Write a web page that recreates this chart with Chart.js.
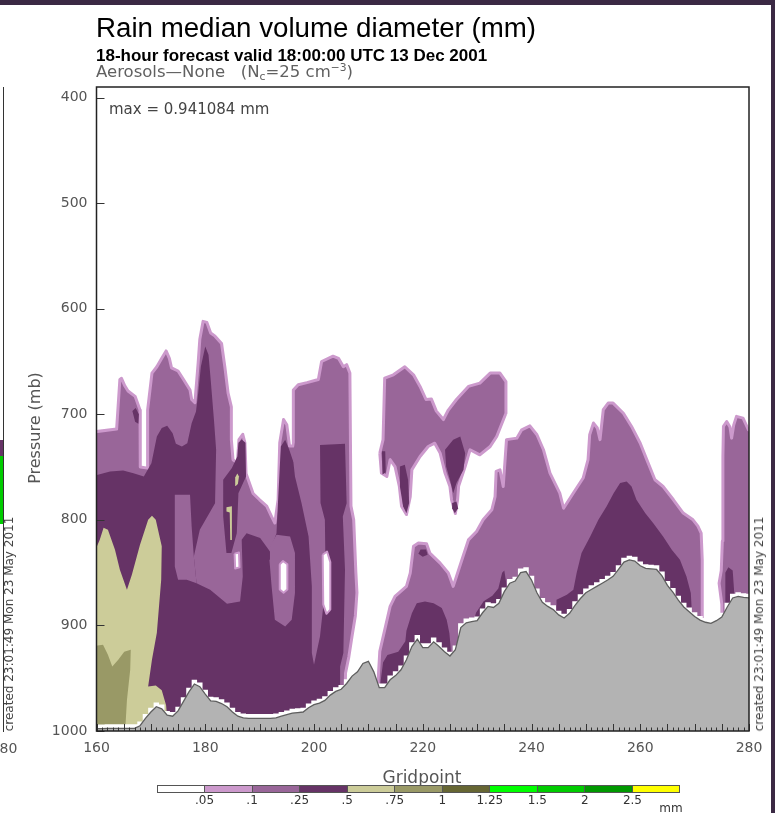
<!DOCTYPE html>
<html>
<head>
<meta charset="utf-8">
<script src="https://cdn.jsdelivr.net/npm/chart.js"></script>
<style>
  html, body { margin: 0; padding: 0; background: #fff; }
  body { width: 775px; height: 813px; position: relative; overflow: hidden; font-family: 'DejaVu Sans', sans-serif; }
  #chart { position: absolute; left: 0; top: 0; }
  .t { position: absolute; white-space: nowrap; }
  .rot { transform: translate(-50%, -50%) rotate(-90deg); }
  .mid { transform: translate(-50%, -50%); }
  .sub { font-size: 65%; position: relative; top: 0.3em; }
  .sup { font-size: 65%; position: relative; top: -0.55em; }
  #bar { position: absolute; left: 157px; top: 785px; width: 523px; height: 8px; border: 1px solid #555; box-sizing: border-box; display: flex; }
  #bar div { flex: 1; border-left: 1px solid #555; }
  #bar div:first-child { border-left: none; }
</style>
</head>
<body>
<canvas id="chart" width="775" height="813"></canvas>

<div class="t" style="left:0;top:0;width:775px;height:5px;background:#3b2944"></div>
<div class="t" style="left:771px;top:0;width:4px;height:813px;background:#3b2944"></div>
<div class="t" style="left:0;top:87px;width:3px;height:645px;border-right:1.5px solid #333"></div>
<div class="t" style="left:0;top:440px;width:3px;height:16px;background:#663366"></div>
<div class="t" style="left:0;top:456px;width:3px;height:68px;background:#00cc00"></div>

<div class="t" style="left:96px;top:14px;font:27.7px/27.7px 'Liberation Sans',sans-serif;color:#000">Rain median volume diameter (mm)</div>
<div class="t" style="left:96px;top:47px;font:bold 17px/17px 'Liberation Sans',sans-serif;color:#000">18-hour forecast valid 18:00:00 UTC 13 Dec 2001</div>
<div class="t" style="left:96px;top:64px;font:16.5px/16.5px 'DejaVu Sans',sans-serif;color:#606060">Aerosols—None&nbsp;&nbsp;&nbsp;(N<span class="sub">c</span>=25 cm<span class="sup">−3</span>)</div>
<div class="t" style="left:109px;top:102px;font:15px/15px 'DejaVu Sans',sans-serif;color:#444">max = 0.941084 mm</div>
<div class="t rot" style="left:35px;top:428px;font:16px/16px 'DejaVu Sans',sans-serif;color:#555">Pressure (mb)</div>
<div class="t mid" style="left:422px;top:777px;font:17px/17px 'DejaVu Sans',sans-serif;color:#555">Gridpoint</div>
<div class="t rot" style="left:9px;top:624px;font:12px/12px 'DejaVu Sans',sans-serif;color:#444">created 23:01:49 Mon 23 May 2011</div>
<div class="t rot" style="left:759px;top:624px;font:12px/12px 'DejaVu Sans',sans-serif;color:#444">created 23:01:49 Mon 23 May 2011</div>
<div class="t mid" style="left:4px;top:748px;font:14px/14px 'DejaVu Sans',sans-serif;color:#555">280</div>

<div id="bar"></div>
<div id="barLabels"></div>
<div class="t mid" style="left:671px;top:808px;font:12px/12px 'DejaVu Sans',sans-serif;color:#333">mm</div>

<script>
// axes
const xTicks = [160, 180, 200, 220, 240, 260, 280];
const yTicks = [400, 500, 600, 700, 800, 900, 1000];

// colour bar
const levelLabels = ['.05', '.1', '.25', '.5', '.75', '1', '1.25', '1.5', '2', '2.5'];
const barColors = ['#ffffff', '#cc99cc', '#996699', '#663366', '#cccc99', '#999966', '#666633',
                   '#00ff00', '#00cc00', '#009900', '#ffff00'];

// terrain (surface pressure, mb) at each gridpoint 160..280
const gridpoints = Array.from({ length: 121 }, (_, i) => 160 + i);
const terrainP = [
  997.8, 997.8, 997.5, 997.5, 997.5, 997.5, 997.5, 997.5, 995, 988,
  982, 977, 979, 985, 986, 981, 972, 963, 955.5, 958,
  965, 971.5, 972, 974, 977, 982, 986, 987.5, 988, 988,
  988, 988, 988, 987.5, 986, 984.5, 983, 982.5, 982, 978,
  975, 973.5, 971, 966, 962.5, 960.5, 955, 948, 944, 936,
  934, 944, 959, 959, 951.5, 947.5, 942, 932.5, 920, 913,
  921, 921, 915.5, 920, 925, 929, 923, 902, 897.5, 896.5,
  895.5, 888, 882, 883, 879, 868, 860, 858, 850, 849,
  857, 869, 878, 882, 885, 890, 893, 888.5, 881, 874.5,
  869, 866, 863, 860, 857, 853.5, 847, 840, 838, 839,
  843.5, 846, 846.5, 847, 853, 862, 868.5, 876, 882.5, 887,
  891.5, 895, 897, 898, 895.5, 892, 882.5, 874, 872.5, 873.5,
  874
];

// contour regions: [gridpoint, pressure] outlines
// >= .1 mm envelopes (drawn with the .05 rim)
const ringA = [[159,717],[163.7,714],[164.3,667],[164.6,666],[165.2,673],[165.8,678],[167.1,683],[168,696],[168,712],[168.1,750],[169.4,751],[169.4,696],[170.2,661],[171.1,655],[172,647],[172.8,640],[173.4,647],[173.8,656],[175,659],[176,667],[177.2,677],[177.5,686],[178.1,689],[178.7,651],[179,629],[179.6,612],[180.3,613],[181,623],[181.8,626],[183,633],[183.6,655],[184.2,680],[184.8,693],[184.8,724],[185.1,743],[185.9,746],[186.2,724],[186.9,719],[187.3,727],[187.5,756],[188.8,775],[190,781],[191.3,787],[192.2,797],[192.8,803],[193.4,781],[193.7,727],[194.4,705],[195,710],[195.5,730],[196.2,730],[196.2,677],[197.1,672],[198.7,670],[200.8,667],[201.4,650],[203.5,645],[204.5,647],[205.4,655],[206,653],[206.6,661],[206.8,787],[207.3,800],[207.7,850],[207.9,869],[207.6,891],[207,910],[206.4,930],[205.8,945],[205.5,1006],[159,1006]];
const ringC = [[212.1,736.8],[212.7,724],[213,665.7],[214.6,662.6],[216.7,655],[218.3,662.6],[219.5,673.6],[220.6,686],[221.6,685.6],[222.5,697],[223.8,705],[224.7,696],[226.2,686],[228.4,673.6],[230.5,670.5],[232.4,661],[234.2,661],[235.3,669],[235.3,699],[233.6,721],[232.4,730.5],[230.5,738.4],[228.7,733.6],[227.8,749.5],[226.6,768],[226.4,781],[226,794],[225.3,781],[225,768.4],[224.1,755.7],[223.2,736.8],[222.2,727.4],[221,730.5],[219.5,740],[218,752.6],[217.7,778],[217,795],[216.1,787],[215.7,768.4],[214.9,749.5],[214,743],[213.4,759],[212.4,755.7]];
const ringD = [[211.6,1006],[211.8,951.5],[212.1,924.6],[214,882],[214.9,872.5],[217,863],[217.7,850.4],[218.3,825],[219.2,822],[220.7,822.6],[221.3,831.5],[223.2,841],[224.7,850.4],[225.6,863],[226.2,853.6],[227.4,834.7],[228.4,819],[229.9,811],[231.1,800],[232.7,790.5],[233.3,778],[233.5,754],[234.2,752.6],[234.8,768.4],[235.4,724],[237.3,722.6],[238.2,714.7],[239.7,711],[241,719.4],[242.2,733.6],[243.4,755.7],[245.2,774.6],[245.9,789],[247.7,774.6],[249.5,760.4],[250.4,743],[250.7,719.4],[251.4,708.3],[252.1,713],[252.6,724],[253.2,695.7],[254.1,689.4],[255,689.4],[256.9,699],[258.4,711.5],[260,727.4],[261.2,743],[262.7,762],[264.2,768.4],[266.1,781],[267.9,793.6],[269.7,800],[270.6,806],[271.2,812.5],[271.4,837.8],[271.4,1006]];
const ringF = [[275.2,1006],[275,880],[274.5,860],[274.9,848],[275.1,820],[275.2,740],[275.3,711.5],[275.9,706.8],[276.5,712],[276.8,722.6],[277.2,710],[277.7,702],[278.9,703.6],[279.9,714.7],[281,716],[281,1006]];

// >= .25 mm
const darkA = [[159,759],[162.5,754.2],[164.9,753.2],[166.8,755.8],[168.7,758.9],[170.1,746.3],[171.1,721],[172,713.1],[173,710.9],[174,717.9],[174.6,728],[175.7,730.5],[176.7,727.4],[177.5,708.4],[178.3,697.4],[178.7,680],[179.2,654.7],[180,635.8],[180.6,643.7],[181,667.4],[181.6,705.3],[182,733.7],[181.8,784.2],[179,809.4],[177.9,834.7],[178.4,860],[180.9,866.3],[184,879.5],[186.4,877.3],[186.9,853.6],[186.7,818.9],[187.6,812.6],[190.1,817.3],[191.9,830],[193.1,812.6],[193.4,781],[193.9,730.5],[194.7,724.2],[195.4,733],[196.2,745],[201.1,745],[201.1,729],[205.7,728],[206,784.2],[205.3,796.8],[205.7,847.3],[205.4,926.2],[204.8,938.9],[204.8,1006],[159,1006]];
const darkT1 = [[166.6,697],[167.2,694],[167.8,700],[167.7,709],[167.1,707]];
const darkT3 = [[186.7,724],[187.4,727],[187.5,758.9],[186.1,774.7],[185.8,812.6],[184.8,831.5],[183.9,831.5],[183.3,796.8],[183.3,762.1],[184.9,751],[185.9,740],[186.1,727]];
const darkC1 = [[212.5,735],[213.1,735],[213.2,755],[212.6,757]];
const darkC2 = [[215.8,749.5],[216.7,747.9],[217.3,762],[217.5,784],[217,793.7],[216.4,787.4],[215.8,768.4]];
const darkC3 = [[224.1,733.7],[225.6,724.2],[226.9,721],[227.8,736.8],[227.5,752.6],[226.2,765.2],[225.6,774.7],[225,762],[224.3,749.5]];
const darkDrop = [[225.4,784],[226.2,782.6],[226.5,789],[225.9,793.7],[225.4,789]];
const darkDdome = [[212.1,1006],[212.2,955],[212.7,935],[213.5,928],[215.5,925],[216.8,915],[217,905],[218,888.4],[218.9,878.9],[220.4,877.3],[222,878.9],[223.5,883.6],[224.4,894.7],[224.9,907.3],[225.2,925],[225.2,1006]];
const darkDsmall = [[219.2,832],[219.6,828],[220.6,828],[220.9,833],[220,835]];
const darkSpike = [[228.8,906],[229.8,888],[231.2,877],[232.8,872],[233.9,865],[234.6,850],[235,848],[235.3,858],[235.6,875],[235.6,906]];
const darkEdome = [[244.6,1006],[244.6,875.7],[246.5,871],[247.7,866.2],[248.3,850.4],[249.2,831.5],[250.8,815.7],[252.3,800],[253.8,787.3],[255.1,774.7],[256.3,765.2],[257.5,763.6],[258.4,768.4],[259.3,781],[260.9,793.6],[262.4,803.1],[264.2,815.7],[265.8,828.4],[267.3,837.8],[268.5,853.6],[269.3,869.4],[269.5,888.3],[269.5,1006]];
const darkF = [[275.6,1006],[275.6,888],[275.7,850],[276.2,845],[277,848],[277.3,870],[277.6,888],[277.6,1006]];

// .1-.25 mm pockets inside the dark area
const medM1 = [[174.4,776.3],[177.2,776.3],[177.5,806.3],[177.9,834.7],[178.4,860],[176.6,856.8],[175,856.8],[174.4,844.2]];
const medM2 = [[196.2,735],[196.6,724],[201.1,724],[201.2,784.1],[202,799.9],[202.1,837.8],[201.7,882],[201.1,910.4],[200,937.2],[199.6,926.2],[199.6,863],[199,815.7],[197.7,784.1],[196.5,758.9],[196.2,745]];
const medM4 = [[191.9,825.2],[193.1,814.1],[195.6,815.7],[196.5,831.5],[196.5,869.4],[195.9,894.6],[194.7,900.9],[192.8,894.6],[192.2,863],[191.8,837.8]];

// < .05 mm holes
const holeW1 = [[193.7,842],[194.3,839],[195.1,842],[195.1,866],[194.4,869],[193.7,866]];
const holeW2 = [[201.6,833],[202.4,830],[203,840],[203,885],[202.3,889],[201.7,880]];
const holeW3 = [[185.4,832],[186.2,831],[186.3,845],[185.5,846]];

// >= .5 and >= .75 mm
const khakiLeft = [[159,838],[160.6,818.8],[161.3,807.5],[162.1,809.4],[163.4,828.3],[164.3,847.3],[165.6,866.2],[166.5,852],[168,823.6],[169.5,800],[170.2,796],[170.9,800],[172,825],[171.9,856.8],[171.1,907],[170.2,932.5],[169.5,957.8],[170.9,956.8],[172,961.4],[172.8,975.6],[173.3,1006],[159,1006]];
const khakiK1 = [[185.6,768],[185.5,760],[185.9,756],[186.2,759],[186,766]];
const khakiK2 = [[183.9,788],[184.9,787],[184.9,819],[184.6,819],[184.5,793],[183.9,792]];
const oliveLeft = [[159,920],[161.2,918.3],[162.1,927.8],[162.9,939],[164,932.5],[165.1,925],[166.3,923],[166.2,942],[165.6,970.6],[165.2,1006],[159,1006]];

const layers = [
  [ringA, 'ring'], [ringC, 'ring'], [ringD, 'ring'], [ringF, 'ring'],
  [darkA, 'dark'], [darkT1, 'dark'], [darkT3, 'dark'],
  [medM1, 'med'], [medM2, 'med'], [medM4, 'med'],
  [holeW1, 'hole'], [holeW2, 'hole'], [holeW3, 'hole'],
  [khakiLeft, 'khaki'], [oliveLeft, 'olive'], [khakiK1, 'khaki'], [khakiK2, 'khaki'],
  [darkC1, 'dark'], [darkC2, 'dark'], [darkC3, 'dark'], [darkDrop, 'dark'],
  [darkDdome, 'dark'], [darkDsmall, 'dark'], [darkSpike, 'dark'], [darkEdome, 'dark'], [darkF, 'dark']
];

const kinds = {
  ring:  { bg: barColors[2], border: barColors[1], width: 3 },
  hole:  { bg: '#ffffff',    border: barColors[1], width: 2 },
  med:   { bg: barColors[2] },
  dark:  { bg: barColors[3] },
  khaki: { bg: barColors[4] },
  olive: { bg: barColors[5] }
};

const total = layers.length + 2;
const datasets = layers.map(([pts, kind], i) => {
  const k = kinds[kind];
  return {
    data: pts.concat([pts[0]]).map(([x, y]) => ({ x, y })),
    backgroundColor: k.bg,
    borderColor: k.border || 'rgba(0,0,0,0)',
    borderWidth: k.width || 0,
    borderJoinStyle: 'round',
    fill: 'shape',
    clip: 0,
    order: total - i
  };
});

// white band left just above the ground, then the ground itself
datasets.push({
  data: gridpoints.map((g, i) => ({ x: g, y: terrainP[i] - 4 })),
  stepped: 'middle',
  backgroundColor: '#ffffff',
  borderWidth: 0,
  borderColor: 'rgba(0,0,0,0)',
  fill: 'start',
  clip: 0,
  order: 2
});
datasets.push({
  data: gridpoints.map((g, i) => ({ x: g, y: terrainP[i] })),
  backgroundColor: '#b3b3b3',
  borderColor: '#5e5e5e',
  borderWidth: 1.3,
  fill: 'start',
  clip: 0,
  order: 1
});

const frame = {
  id: 'frame',
  afterDatasetsDraw(chart) {
    const { ctx, chartArea: a, scales: { x, y } } = chart;
    ctx.save();
    ctx.strokeStyle = '#333';
    ctx.lineWidth = 1;
    ctx.beginPath();
    for (const g of gridpoints) {
      const px = Math.round(x.getPixelForValue(g)) + 0.5;
      const len = g % 5 === 0 ? 7 : 3.5;
      ctx.moveTo(px, a.bottom);
      ctx.lineTo(px, a.bottom - len);
    }
    for (const v of yTicks) {
      const py = Math.round(y.getPixelForValue(v)) + 0.5;
      ctx.moveTo(a.left, py);
      ctx.lineTo(a.left + 8, py);
    }
    ctx.stroke();
    ctx.lineWidth = 1.5;
    ctx.strokeStyle = '#222';
    ctx.strokeRect(a.left, a.top, a.right - a.left, a.bottom - a.top);
    ctx.restore();
  }
};

Chart.defaults.font.family = "'DejaVu Sans', sans-serif";

new Chart(document.getElementById('chart'), {
  type: 'line',
  data: { datasets },
  options: {
    responsive: false,
    animation: false,
    layout: { padding: { left: 0, right: 26, top: 87, bottom: 52 } },
    plugins: { legend: { display: false }, tooltip: { enabled: false } },
    elements: { point: { radius: 0 }, line: { tension: 0 } },
    scales: {
      x: {
        type: 'linear', min: 160, max: 280,
        afterFit: s => { s.height = 30; },
        afterBuildTicks: s => { s.ticks = xTicks.map(v => ({ value: v })); },
        grid: { display: false, drawTicks: false },
        border: { display: false },
        ticks: { color: '#555', font: { size: 14 }, padding: 9, maxRotation: 0, callback: v => String(v) }
      },
      y: {
        type: 'linear', min: 390, max: 1000, reverse: true,
        afterFit: s => { s.width = 96.5; },
        afterBuildTicks: s => { s.ticks = yTicks.map(v => ({ value: v })); },
        grid: { display: false, drawTicks: false },
        border: { display: false },
        ticks: { color: '#555', font: { size: 14 }, padding: 9, callback: v => String(v) }
      }
    }
  },
  plugins: [frame]
});

// colour bar
const bar = document.getElementById('bar');
barColors.forEach(c => {
  const d = document.createElement('div');
  d.style.background = c;
  bar.appendChild(d);
});
const labelsBox = document.getElementById('barLabels');
const segW = 523 / barColors.length;
levelLabels.forEach((lab, i) => {
  const d = document.createElement('div');
  d.className = 't mid';
  d.style.cssText = `left:${157 + segW * (i + 1)}px;top:800px;font:12px/12px 'DejaVu Sans',sans-serif;color:#333`;
  d.textContent = lab;
  labelsBox.appendChild(d);
});
</script>
</body>
</html>
